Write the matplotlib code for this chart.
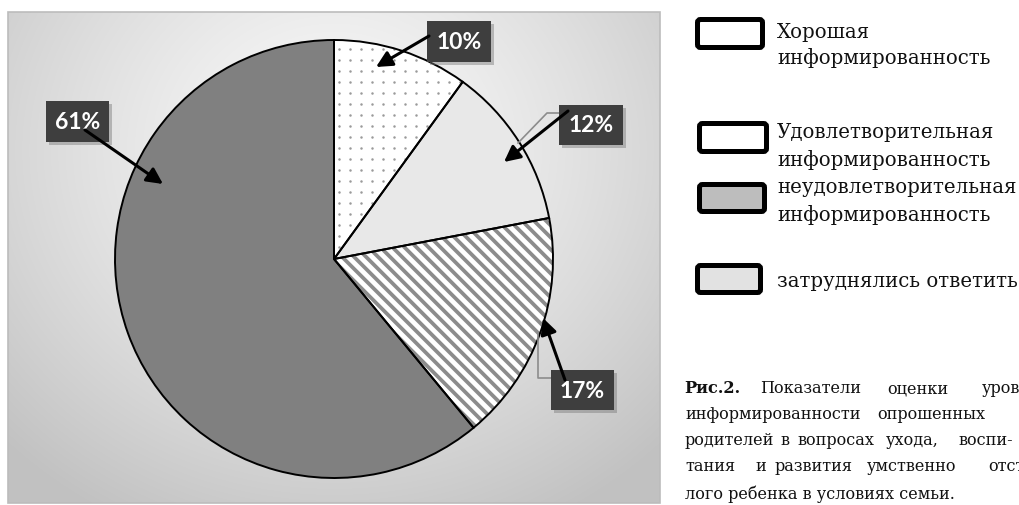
import numpy as np
import matplotlib
matplotlib.use('Agg')
import matplotlib.pyplot as plt
from matplotlib.patches import Rectangle, FancyBboxPatch, Wedge

# данные диаграммы (по часовой стрелке от 12 часов)
labels = ['Хорошая информированность', 'Удовлетворительная информированность',
          'затруднялись ответить', 'неудовлетворительная информированность']
values = [10, 12, 17, 61]
pct_labels = ['10%', '12%', '17%', '61%']

legend_lines = [
    ['Хорошая', 'информированность'],
    ['Удовлетворительная', 'информированность'],
    ['неудовлетворительная', 'информированность'],
    ['затруднялись ответить'],
]

# подпись: (слово, x, начертание) - выровнено по ширине
caption_lines = [
    [('Рис.2.', 684, 'bold'), ('Показатели', 760, 'normal'), ('оценки', 887, 'normal'), ('уровня', 982, 'normal')],
    [('информированности', 685, 'normal'), ('опрошенных', 877, 'normal')],
    [('родителей', 685, 'normal'), ('в', 780, 'normal'), ('вопросах', 797, 'normal'),
     ('ухода,', 886, 'normal'), ('воспи-', 958, 'normal')],
    [('тания', 685, 'normal'), ('и', 755, 'normal'), ('развития', 775, 'normal'),
     ('умственно', 867, 'normal'), ('отста-', 988, 'normal')],
    [('лого ребенка в условиях семьи.', 685, 'normal')],
]

W, H = 1020, 505
fig = plt.figure(figsize=(W / 100, H / 100), dpi=100)
fig.patch.set_facecolor('white')
plt.rcParams['hatch.color'] = '#4c4c4c'
plt.rcParams['hatch.linewidth'] = 1.5

# фон области диаграммы (радиальный градиент)
ax_bg = fig.add_axes([0, 0, 1, 1], zorder=0)
ax_bg.set_xlim(0, W)
ax_bg.set_ylim(H, 0)
ax_bg.axis('off')
x0, x1, y0, y1 = 8, 660, 12, 503
xx, yy = np.meshgrid(np.arange(x0, x1), np.arange(y0, y1))
d = np.sqrt(((xx - 334) / 420.0) ** 2 + ((yy - 150) / 380.0) ** 2)
d = np.clip(d, 0, 1.1)
g = (250 - 50 * d ** 1.3) / 255.0
ax_bg.imshow(np.dstack([g, g, g]), extent=[x0, x1, y1, y0], aspect='auto', interpolation='bilinear')
ax_bg.add_patch(Rectangle((x0, y0), x1 - x0, y1 - y0, fill=False, edgecolor='#bcbcbc', lw=1.2))

# круговая диаграмма
cx, cy, r = 334, 259, 219
half = r * 1.05
ax = fig.add_axes([(cx - half) / W, (H - cy - half) / H, 2 * half / W, 2 * half / H], zorder=1)
colors = ['white', '#e8e8e8', 'white', '#808080']
wedges, _ = ax.pie(values, colors=colors, startangle=90, counterclock=False,
                   wedgeprops=dict(edgecolor='none', linewidth=0))
ax.set_xlim(-1.05, 1.05)
ax.set_ylim(-1.05, 1.05)
ax.axis('off')

# точки в первом секторе
step = 11.0 / r
gx, gy = np.meshgrid(np.arange(-1.0, 1.0, step), np.arange(-1.0, 1.0, step))
dots = ax.scatter(gx.ravel() + step * 0.4, gy.ravel(), s=3.2, color='#9a9a9a', linewidths=0, zorder=2)
dots.set_clip_path(wedges[0])

# полосы в третьем секторе
sstep = 12.0 / r
for c in np.arange(-2.2, 2.2, sstep):
    ln, = ax.plot([-1.1, 1.1], [1.1 + c, -1.1 + c], color='#8c8c8c', lw=2.7,
                  solid_capstyle='butt', zorder=2)
    ln.set_clip_path(wedges[2])

for w in wedges:
    ax.add_patch(Wedge(w.center, w.r, w.theta1, w.theta2, fill=False,
                       edgecolor='black', lw=1.4, zorder=3))

# подписи и стрелки
ax_top = fig.add_axes([0, 0, 1, 1], zorder=3)
ax_top.set_xlim(0, W)
ax_top.set_ylim(H, 0)
ax_top.axis('off')
ax_top.patch.set_alpha(0)

boxes = {'10%': (427, 21, 64, 41), '12%': (559, 105, 64, 40),
         '17%': (551, 370, 63, 40), '61%': (46, 101, 63, 41)}
arrows = {'10%': ((429, 36), (376, 67)), '12%': ((568, 111), (504, 162)),
          '17%': ((565, 380), (543, 318)), '61%': ((85, 130), (163, 184))}
leaders = {'12%': [(559, 113), (547, 113), (518, 143)],
           '17%': [(551, 378), (538, 378), (538, 333)]}

for key, pts in leaders.items():
    xs, ys = zip(*pts)
    ax_top.plot(xs, ys, color='#8c8c8c', lw=1.2, zorder=1)

for lab in pct_labels:
    bx, by, bw, bh = boxes[lab]
    ax_top.add_patch(Rectangle((bx + 3, by + 3), bw, bh, facecolor='#7a7a7a', alpha=0.45,
                               edgecolor='none', zorder=2))
    ax_top.add_patch(Rectangle((bx, by), bw, bh, facecolor='#3e3e3e', edgecolor='none',
                               hatch='..', lw=0, zorder=3))
    ax_top.text(bx + bw / 2, by + bh / 2 + 1, lab, color='white', fontsize=16.5,
                fontweight='bold', family=['Lato', 'DejaVu Sans'], ha='center', va='center', zorder=4)

for lab in pct_labels:
    (sx, sy), (ex, ey) = arrows[lab]
    ax_top.annotate('', xy=(ex, ey), xytext=(sx, sy),
                    arrowprops=dict(arrowstyle='-|>', color='black', lw=2.2,
                                    mutation_scale=24, shrinkA=0, shrinkB=0), zorder=5)

# легенда
leg_boxes = [(697.5, 19.5, 65, 28), (699.5, 123.5, 67, 28), (699.5, 184.5, 65, 27), (697.5, 265.5, 63, 27)]
leg_fill = ['white', 'white', '#bdbdbd', '#e2e2e2']
leg_base = [[38, 64], [138, 166], [193, 221], [287]]
serif = ['DejaVu Serif']
for (bx, by, bw, bh), fc, lines, bases in zip(leg_boxes, leg_fill, legend_lines, leg_base):
    ax_top.add_patch(FancyBboxPatch((bx, by), bw, bh, boxstyle='round,pad=0,rounding_size=3',
                                    facecolor=fc, edgecolor='black', lw=3.6, zorder=3))
    for txt, yb in zip(lines, bases):
        ax_top.text(777, yb, txt, fontsize=14.2, family=serif, va='baseline', ha='left', color='#111111')

# подпись к рисунку
cap_base = [393, 419, 445, 471, 499]
for words, yb in zip(caption_lines, cap_base):
    for txt, xw, wt in words:
        ax_top.text(xw, yb, txt, fontsize=11.6, family=serif, fontweight=wt,
                    va='baseline', ha='left', color='#111111')

fig.savefig('out.png', dpi=100)
